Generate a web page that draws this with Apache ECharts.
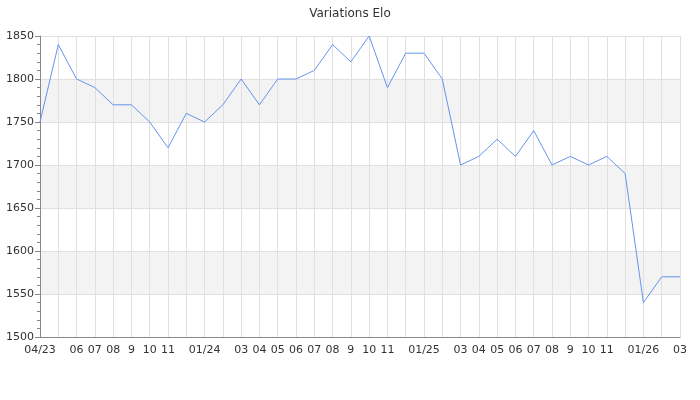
<!DOCTYPE html>
<html><head><meta charset="utf-8">
<script src="https://cdn.jsdelivr.net/npm/echarts@6/dist/echarts.min.js"></script>
<style>html,body{margin:0;padding:0;background:#fff}#c{width:700px;height:400px}</style>
</head><body><div id="c"></div>
<script>
var months = ['04/23','05','06','07','08','9','10','11','12','01/24','02','03','04','05','06','07','08','9','10','11','12','01/25','02','03','04','05','06','07','08','9','10','11','12','01/26','02','03'];
var elo = [1750,1840,1800,1790,1770,1770,1750,1720,1760,1750,1770,1800,1770,1800,1800,1810,1840,1820,1850,1790,1830,1830,1800,1700,1710,1730,1710,1740,1700,1710,1700,1710,1690,1540,1570,1570];
var yMin = 1500, yMax = 1850, yStep = 50;

function isYearLabel(i){ return i>=0 && i<months.length && months[i].indexOf('/')>=0; }

var chart = echarts.init(document.getElementById('c'), null, {renderer:'canvas'});
var font = 'DejaVu Sans';
chart.setOption({
  animation:false,
  backgroundColor:'#fff',
  title:{text:'Variations Elo', left:'center', top:3, textStyle:{fontFamily:font,fontSize:12,fontWeight:'normal',color:'#333'}},
  grid:{left:40,right:20,top:36,bottom:63},
  xAxis:{type:'category',data:months,boundaryGap:false,
    axisLine:{lineStyle:{color:'#888'}},
    axisTick:{show:false},
    splitLine:{show:true,interval:0,lineStyle:{color:'#e0e0e0'}},
    axisLabel:{fontFamily:font,fontSize:11,color:'#333',margin:8,
      interval:function(i){return isYearLabel(i) || !(isYearLabel(i-1)||isYearLabel(i+1));}}
  },
  yAxis:{type:'value',min:yMin,max:yMax,interval:yStep,
    axisLine:{show:true,lineStyle:{color:'#888'}},
    axisTick:{show:true,length:5,lineStyle:{color:'#888'}},
    minorTick:{show:true,splitNumber:5,length:3,lineStyle:{color:'#888'}},
    axisLabel:{fontFamily:font,fontSize:11,color:'#333',margin:6,formatter:function(v){return String(v);}},
    splitLine:{show:true,lineStyle:{color:'#e0e0e0'}},
    splitArea:{show:true,areaStyle:{color:['#ffffff','#f3f3f3']}}
  },
  series:[{type:'line',data:elo,showSymbol:false,symbol:'none',
    lineStyle:{color:'#6495ed',width:1}}]
});
</script></body></html>
